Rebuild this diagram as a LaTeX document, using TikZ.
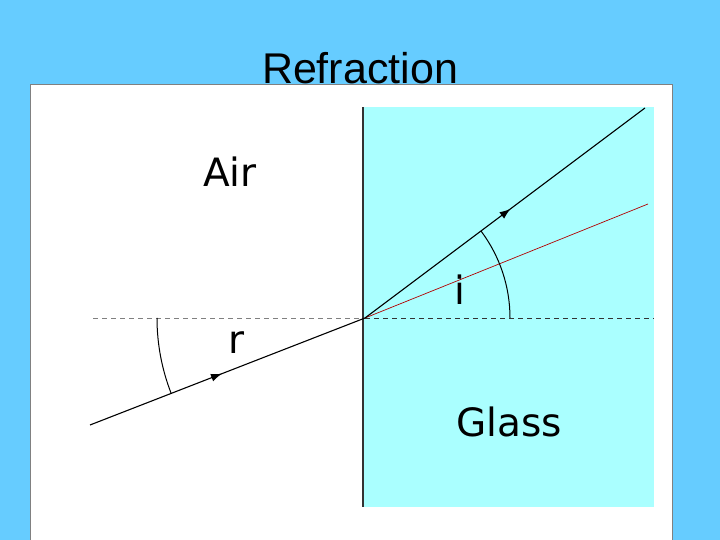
\documentclass[tikz,border=0pt]{standalone}
\usepackage{fontspec}
\setmainfont{DejaVu Sans}
\newfontfamily\arialf{Liberation Sans}
\usetikzlibrary{decorations.markings,arrows.meta,calc}
\definecolor{bgblue}{HTML}{66CCFF}
\definecolor{glass}{HTML}{AAFFFF}
\begin{document}
\begin{tikzpicture}[x=1pt,y=1pt,
  lbl/.style={font=\fontsize{39}{39}\selectfont,inner sep=0},
  ray/.style={black,line width=1.1pt},
  midarrow/.style={postaction={decorate},decoration={markings,mark=at position #1 with {\arrow{Latex[length=11pt,width=8pt]}}}}]
\useasboundingbox (0,0) rectangle (720,540);
\fill[bgblue] (0,0) rectangle (720,540);
\fill[white,draw=gray] (30,-5) rectangle (672,456);
\fill[glass] (363,33) rectangle (654,433);
\draw[black!80,line width=1.3pt] (363,33) -- (363,433);
\coordinate (O) at (365,222);
\coordinate (L) at (93,222);
\coordinate (R) at (654,222);
\coordinate (S) at (90,115);
\coordinate (E) at (645,432);
\coordinate (N) at (648,336);
\draw[gray,dashed,line width=0.8pt,dash pattern=on 5pt off 4pt] (L) -- (O);
\draw[black!80,dashed,line width=0.9pt,dash pattern=on 5pt off 4pt] (O) -- (R);
\draw[red!70!black,line width=0.7pt] (O) -- (N);
\draw[ray,midarrow=0.48] (S) -- (O);
\draw[ray,midarrow=0.52] (O) -- (E);
\draw[line width=1pt] ($(O)+(180:208)$) arc[start angle=180,end angle=201.3,radius=208];
\draw[line width=1pt] ($(O)+(0:145)$) arc[start angle=0,end angle=36.9,radius=145];
\node[lbl] (air) at (230,368) {Air};
\node[lbl] (r) at (237,197) {r};
\node[lbl] (i) at (460,250) {i};
\node[lbl] (glass) at (509,118) {Glass};
\node[font=\arialf\fontsize{43}{43}\selectfont,inner sep=0] (title) at (360,472) {Refraction};
\end{tikzpicture}
\end{document}
